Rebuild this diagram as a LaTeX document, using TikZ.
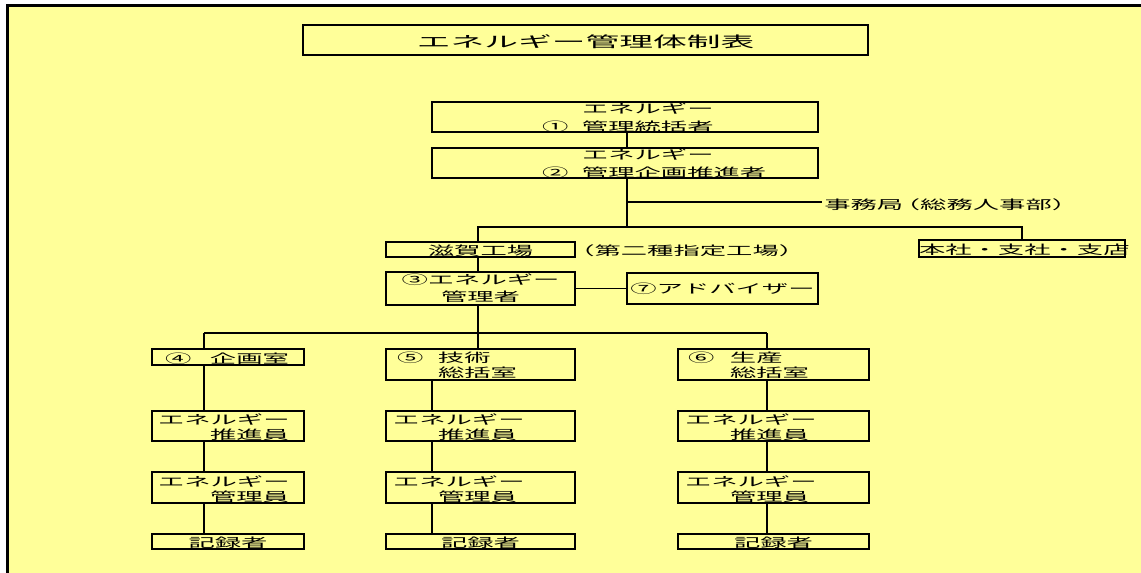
\documentclass[tikz,border=0pt]{standalone}
\usepackage{fontspec}
\newfontfamily\jp[FakeStretch=2.1]{Noto Sans CJK JP}
\newfontfamily\jpt[FakeStretch=2.25]{Noto Sans CJK JP}
\newlength\unitpx \setlength\unitpx{0.75pt}
\newcommand\pxind[1]{\hspace*{#1\unitpx}}
\newcommand\pxbox[2]{\makebox[#1\unitpx][l]{#2}}
\definecolor{bgyellow}{RGB}{255,255,153}
\tikzset{
  box/.style={draw, line width=1.1pt, inner sep=0pt, anchor=center,
    font=\jp\fontsize{9.4pt}{11.25pt}\selectfont},
  hd/.style 2 args={text height=#1pt, text depth=#2pt},
  colL/.style={minimum width=114pt, text width=114pt},
  colM/.style={minimum width=141.75pt, text width=141.75pt},
  colR/.style={minimum width=143.25pt, text width=143.25pt},
  h15/.style={minimum height=11.25pt},
  h30/.style={minimum height=22.5pt},
  h31/.style={minimum height=23.25pt},
  free/.style={inner xsep=1.5pt, inner ysep=0pt, anchor=base west, text height=8pt, text depth=0pt,
    font=\jp\fontsize{9.4pt}{11.25pt}\selectfont},
  vline/.style={line width=1.4pt},
  hline/.style={line width=0.8pt},
}
\begin{document}
\begin{tikzpicture}[x=0.75pt,y=-0.75pt]
\useasboundingbox (0,0) rectangle (1141,573);
\fill[white] (0,0) rectangle (1141,573);
\fill[bgyellow] (7.5,5.5) rectangle (1141,573);
\draw[line width=2.25pt] (7.5,573) -- (7.5,5.5) -- (1141,5.5);

% title
\node[box, minimum width=423.75pt, text width=423.75pt, minimum height=22.5pt, hd={11}{0},
  align=center, font=\jpt\fontsize{11.25pt}{14pt}\selectfont] (title) at (585.5,40) {エネルギー管理体制表};

% top management
\node[box, minimum width=289.5pt, text width=289.5pt, h30, hd={8}{12.8}, align=left] (b1) at (625,117)
  {\pxind{150}エネルギー\\[2.25pt]\pxind{110}\pxbox{40}{①}管理統括者};
\node[box, minimum width=289.5pt, text width=289.5pt, h30, hd={8}{12.8}, align=left] (b2) at (625,163)
  {\pxind{150}エネルギー\\[2.25pt]\pxind{110}\pxbox{40}{②}管理企画推進者};
\node[free] (jimu) at (822,210) {事務局\kern-7pt（総務人事部）};

% plant level
\node[box, colM, h15, hd={9.4}{0}, align=center] (shiga) at (480.5,249.5) {滋賀工場};
\node[free] (shitei) at (566,256) {（第二種指定工場）};
\node[box, minimum width=154.5pt, text width=154.5pt, minimum height=12.75pt, hd={9.4}{0}, align=center] (honsha) at (1022,248.5) {本社・支社・支店};
\node[box, colM, minimum height=24.75pt, hd={8}{13.6}, align=center] (b3) at (480.5,288.5) {③エネルギー\\[1.5pt]管理者};
\node[box, colR, h31, hd={7.6}{0.4}, align=center] (b7) at (722.5,288.5) {⑦アドバイザー};

% departments
\node[box, colL, minimum height=12pt, hd={10}{0}, align=left] (b4) at (228,357) {\pxind{13}\pxbox{45}{④}企画室};
\node[box, colM, h31, hd={8}{10.6}, align=left] (b5) at (480.5,364.5) {\pxind{11}\pxbox{41}{⑤}技術\\\pxind{52}総括室};
\node[box, colR, h31, hd={8}{10.6}, align=left] (b6) at (773.5,364.5) {\pxind{10}\pxbox{42}{⑥}生産\\\pxind{52}総括室};

% promoters
\node[box, colL, h30, hd={8}{9.8}, align=left] (p4) at (228,426) {\pxind{6}エネルギー\\\pxind{58}推進員};
\node[box, colM, h30, hd={8}{9.8}, align=left] (p5) at (480.5,426) {\pxind{7}エネルギー\\\pxind{52}推進員};
\node[box, colR, h30, hd={8}{9.8}, align=left] (p6) at (773.5,426) {\pxind{7}エネルギー\\\pxind{52}推進員};

% managers
\node[box, colL, h31, hd={8}{9}, align=left] (k4) at (228,487.5) {\pxind{6}エネルギー\\\pxind{58}管理員};
\node[box, colM, h31, hd={8}{9}, align=left] (k5) at (480.5,487.5) {\pxind{7}エネルギー\\\pxind{52}管理員};
\node[box, colR, h31, hd={8}{9}, align=left] (k6) at (773.5,487.5) {\pxind{7}エネルギー\\\pxind{52}管理員};

% recorders
\node[box, colL, h15, hd={9.4}{0}, align=center] (r4) at (228,541.5) {記録者};
\node[box, colM, h15, hd={9.4}{0}, align=center] (r5) at (480.5,541.5) {記録者};
\node[box, colR, h15, hd={9.4}{0}, align=center] (r6) at (773.5,541.5) {記録者};

% helper coordinates
\coordinate (tr) at (627,0);
\coordinate (jy) at (0,202);
\coordinate (bus1) at (627,227);
\coordinate (bus2) at (478,333);
\coordinate (cL) at (204,333);
\coordinate (cM) at (432,333);
\coordinate (cR) at (767,333);

% connectors
\draw[vline] (b1.south -| tr) -- (b2.north -| tr);
\draw[vline] (b2.south -| tr) -- (bus1);
\draw[hline] (tr |- jy) -- (jimu.west |- jy);
\draw[hline] (shiga.north -| bus2) |- (bus1) -| (honsha.north);
\draw[vline] (shiga.north -| bus2) -- (bus1 -| bus2);
\draw[vline] (shiga.south -| bus2) -- (b3.north -| bus2);
\draw[hline] (b3.east) -- (b7.west);
\draw[vline] (b3.south -| bus2) -- (b5.north -| bus2);
\draw[hline] (cL) -- (cR);
\draw[vline] (cL) -- (b4.north -| cL);
\draw[vline] (cR) -- (b6.north -| cR);
\draw[vline] (b4.south -| cL) -- (p4.north -| cL);
\draw[vline] (p4.south -| cL) -- (k4.north -| cL);
\draw[vline] (k4.south -| cL) -- (r4.north -| cL);
\draw[vline] (b5.south -| cM) -- (p5.north -| cM);
\draw[vline] (p5.south -| cM) -- (k5.north -| cM);
\draw[vline] (k5.south -| cM) -- (r5.north -| cM);
\draw[vline] (b6.south -| cR) -- (p6.north -| cR);
\draw[vline] (p6.south -| cR) -- (k6.north -| cR);
\draw[vline] (k6.south -| cR) -- (r6.north -| cR);
\end{tikzpicture}
\end{document}
